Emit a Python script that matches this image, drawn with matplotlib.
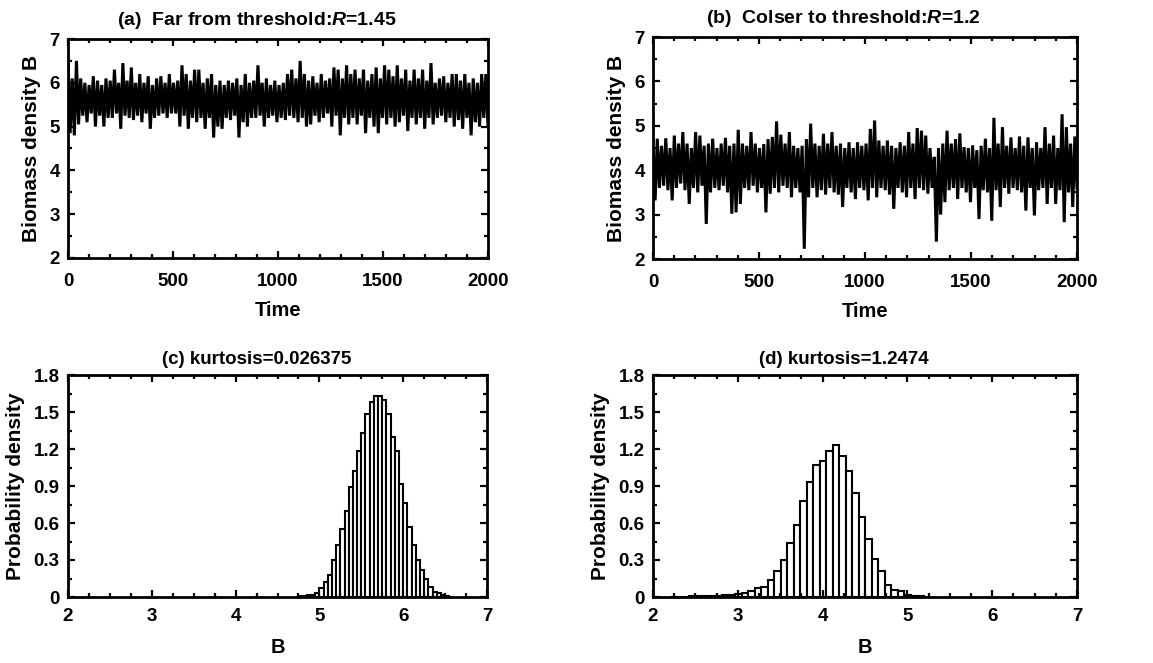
import numpy as np
import matplotlib
matplotlib.use("Agg")
import matplotlib.pyplot as plt
from matplotlib.ticker import MultipleLocator, FuncFormatter

plt.rcParams['font.family'] = ['Liberation Sans', 'DejaVu Sans']
plt.rcParams['font.weight'] = 'bold'
plt.rcParams['mathtext.fontset'] = 'custom'
plt.rcParams['mathtext.it'] = 'Liberation Sans:italic:bold'
plt.rcParams['mathtext.rm'] = 'Liberation Sans:bold'

# ---------------- data ----------------
# Panel (a): upper / lower excursions of B per 20-time-unit window
a_top = [6.55, 6.1, 6.5, 6.1, 6.0, 5.95, 6.15, 6.05, 5.95, 6.1,
         6.05, 6.3, 6.0, 6.45, 6.05, 6.35, 6.0, 6.2, 6.0, 6.15,
         5.95, 6.1, 6.15, 6.0, 6.2, 6.0, 6.05, 6.4, 6.2, 6.05,
         6.3, 6.3, 6.0, 6.1, 6.2, 5.95, 6.05, 5.95, 6.05, 6.0,
         6.1, 5.95, 6.2, 6.0, 6.05, 6.4, 6.0, 6.1, 5.95, 6.05,
         5.95, 6.0, 6.2, 6.3, 6.1, 6.5, 6.2, 6.05, 6.15, 6.0,
         6.2, 6.05, 6.1, 6.35, 6.3, 6.1, 6.4, 6.2, 6.3, 6.1,
         6.3, 6.05, 6.2, 6.35, 6.1, 6.4, 6.3, 6.15, 6.4, 6.1,
         6.3, 6.05, 6.3, 6.1, 6.3, 6.05, 6.45, 6.0, 6.1, 6.15,
         6.0, 6.2, 6.2, 6.05, 6.2, 6.0, 6.1, 6.0, 6.2, 6.2]
a_bot = [4.85, 4.8, 5.05, 5.25, 5.1, 5.3, 5.0, 5.25, 5.0, 5.2,
         5.2, 5.3, 4.95, 5.25, 5.2, 5.15, 5.25, 5.1, 5.3, 4.95,
         5.2, 5.25, 5.3, 5.2, 5.3, 5.3, 5.0, 5.25, 4.95, 5.2,
         5.1, 5.2, 4.95, 5.2, 4.75, 5.0, 4.95, 5.2, 5.15, 5.25,
         4.75, 5.1, 5.0, 5.2, 5.2, 5.25, 5.0, 5.2, 5.25, 5.1,
         5.2, 5.15, 5.25, 5.2, 5.1, 5.2, 5.0, 5.05, 5.25, 5.1,
         5.2, 5.3, 5.0, 5.25, 4.8, 5.2, 5.05, 5.2, 5.05, 5.25,
         4.85, 5.2, 5.0, 4.85, 5.2, 5.05, 5.2, 5.0, 5.1, 5.25,
         4.9, 5.2, 5.05, 5.2, 4.95, 5.2, 5.05, 5.2, 5.25, 5.1,
         5.2, 5.0, 5.15, 4.95, 5.2, 4.8, 5.1, 5.0, 5.2, 5.0]

# Panel (b)
b_top = [4.45, 4.71, 4.55, 4.72, 4.5, 4.78, 4.6, 4.86, 4.6, 4.5,
         4.86, 4.78, 4.55, 4.6, 4.71, 4.5, 4.6, 4.73, 4.55, 4.6,
         4.91, 4.6, 4.55, 4.86, 4.6, 4.5, 4.59, 4.7, 4.75, 5.1,
         4.8, 4.6, 4.86, 4.55, 4.5, 4.55, 4.7, 5.05, 4.6, 4.55,
         4.82, 4.6, 4.86, 4.55, 4.6, 4.5, 4.63, 4.5, 4.63, 4.55,
         4.6, 4.93, 5.12, 4.67, 4.55, 4.67, 4.55, 4.5, 4.63, 4.55,
         4.86, 4.6, 4.95, 4.89, 4.78, 4.5, 4.3, 4.5, 4.6, 4.89,
         4.6, 4.7, 4.83, 4.52, 4.5, 4.56, 4.45, 4.55, 4.71, 4.5,
         5.18, 4.6, 4.97, 4.55, 4.74, 4.5, 4.76, 4.55, 4.74, 4.5,
         4.63, 4.5, 4.97, 4.6, 4.78, 4.5, 5.26, 4.97, 4.6, 4.76]
b_bot = [3.32, 3.6, 3.65, 3.55, 3.32, 3.6, 3.7, 3.55, 3.24, 3.6,
         3.5, 3.65, 2.79, 3.5, 3.6, 3.55, 3.65, 3.5, 3.02, 3.05,
         3.24, 3.6, 3.55, 3.65, 3.5, 3.6, 3.05, 3.47, 3.6, 3.5,
         3.65, 3.6, 3.39, 3.6, 3.5, 2.23, 3.39, 3.6, 3.39, 3.55,
         3.45, 3.6, 3.5, 3.45, 3.17, 3.6, 3.5, 3.35, 3.6, 3.55,
         3.32, 3.6, 3.39, 3.6, 3.55, 3.45, 3.13, 3.6, 3.5, 3.39,
         3.6, 3.35, 3.6, 3.55, 3.47, 3.6, 2.39, 3.0, 3.28, 3.55,
         3.6, 3.35, 3.6, 3.5, 3.28, 3.6, 2.9, 3.55, 3.5, 2.86,
         3.55, 3.17, 3.6, 3.47, 3.6, 3.55, 3.5, 3.09, 3.6, 2.98,
         3.55, 3.6, 3.24, 3.6, 3.24, 3.55, 2.83, 3.5, 3.17, 3.6]

# Panel (c): histogram, bin width 0.05 starting at 4.75
c_start, c_width = 4.75, 0.05
c_dens = [0.005, 0.01, 0.015, 0.02, 0.035, 0.07, 0.12, 0.18, 0.30, 0.42,
          0.55, 0.70, 0.89, 1.02, 1.18, 1.33, 1.48, 1.58, 1.63, 1.63,
          1.60, 1.48, 1.30, 1.18, 0.92, 0.76, 0.57, 0.42, 0.30, 0.22,
          0.15, 0.08, 0.04, 0.03, 0.015, 0.01]

# Panel (d): histogram, bin width ~0.0767 starting at 2.20
d_start, d_width = 2.20, 0.0767
d_dens = [0.003, 0.004, 0.004, 0.005, 0.006, 0.007, 0.009, 0.011, 0.014, 0.018,
          0.024, 0.032, 0.05, 0.07, 0.085, 0.14, 0.21, 0.30, 0.44, 0.58,
          0.78, 0.93, 1.07, 1.10, 1.18, 1.23, 1.14, 1.02, 0.84, 0.65,
          0.47, 0.31, 0.21, 0.10, 0.06, 0.045, 0.02, 0.01, 0.006, 0.004]

titles = [r"(a)  Far from threshold:$R$=1.45",
          r"(b)  Colser to threshold:$R$=1.2",
          "(c) kurtosis=0.026375",
          "(d) kurtosis=1.2474"]

# ---------------- figure ----------------
W, H = 1153, 663
fig = plt.figure(figsize=(W / 100, H / 100), dpi=100)

def box(l, r, t, b):
    return [l / W, 1 - b / H, (r - l) / W, (b - t) / H]

ax_a = fig.add_axes(box(68, 488, 39, 258))
ax_b = fig.add_axes(box(653, 1077, 37, 259))
ax_c = fig.add_axes(box(68, 487, 375, 597))
ax_d = fig.add_axes(box(653, 1077, 375, 597))

TICK_FS = 13.5
LAB_FS = 14.5

def style(ax, xmaj, xmin, ymaj, ymin, xpad):
    ax.xaxis.set_major_locator(MultipleLocator(xmaj))
    ax.xaxis.set_minor_locator(MultipleLocator(xmin))
    ax.yaxis.set_major_locator(MultipleLocator(ymaj))
    ax.yaxis.set_minor_locator(MultipleLocator(ymin))
    ax.tick_params(which='both', direction='in', top=True, right=True,
                   labelsize=TICK_FS, width=1.6)
    ax.tick_params(which='major', length=5)
    ax.tick_params(which='minor', length=3)
    ax.tick_params(axis='x', which='major', pad=xpad)
    ax.tick_params(axis='y', which='major', pad=6)
    for lab in ax.get_xticklabels() + ax.get_yticklabels():
        lab.set_fontweight('bold')
    for s in ax.spines.values():
        s.set_linewidth(2.0)

def series(top, bot):
    vals = []
    for tp, bt in zip(top, bot):
        vals.extend([tp, bt])
    return np.array(vals)

for ax, top, bot, title in [(ax_a, a_top, a_bot, titles[0]),
                            (ax_b, b_top, b_bot, titles[1])]:
    y = series(top, bot)
    t = np.linspace(0, 2000, len(y))
    ax.plot(t, y, color='black', lw=2.2, solid_joinstyle='miter')
    ax.set_xlim(0, 2000)
    ax.set_ylim(2, 7)
    style(ax, 500, 100, 1, 0.5, xpad=11)
    ax.set_xlabel("Time", fontsize=LAB_FS, fontweight='bold', labelpad=8)
    ax.set_ylabel("Biomass density B", fontsize=LAB_FS + 0.5, fontweight='bold', labelpad=6)
    ax.text(0.45, 1.035, title, transform=ax.transAxes, ha='center', va='bottom',
            fontsize=14, fontweight='bold')

for ax, start, width, dens, title in [(ax_c, c_start, c_width, c_dens, titles[2]),
                                      (ax_d, d_start, d_width, d_dens, titles[3])]:
    edges = start + width * np.arange(len(dens))
    ax.bar(edges, dens, width=width, align='edge', facecolor='white',
           edgecolor='black', linewidth=1.5)
    ax.set_xlim(2, 7)
    ax.set_ylim(0, 1.8)
    style(ax, 1, 0.25, 0.3, 0.15, xpad=8)
    ax.yaxis.set_major_formatter(FuncFormatter(
        lambda v, p: "0" if abs(v) < 1e-9 else f"{v:.1f}"))
    ax.set_xlabel("B", fontsize=LAB_FS, fontweight='bold', labelpad=9)
    ax.set_ylabel("Probability density", fontsize=LAB_FS + 0.5, fontweight='bold', labelpad=6)
    ax.text(0.45, 1.03, title, transform=ax.transAxes, ha='center', va='bottom',
            fontsize=13.5, fontweight='bold')

fig.savefig("out.png", dpi=100)
